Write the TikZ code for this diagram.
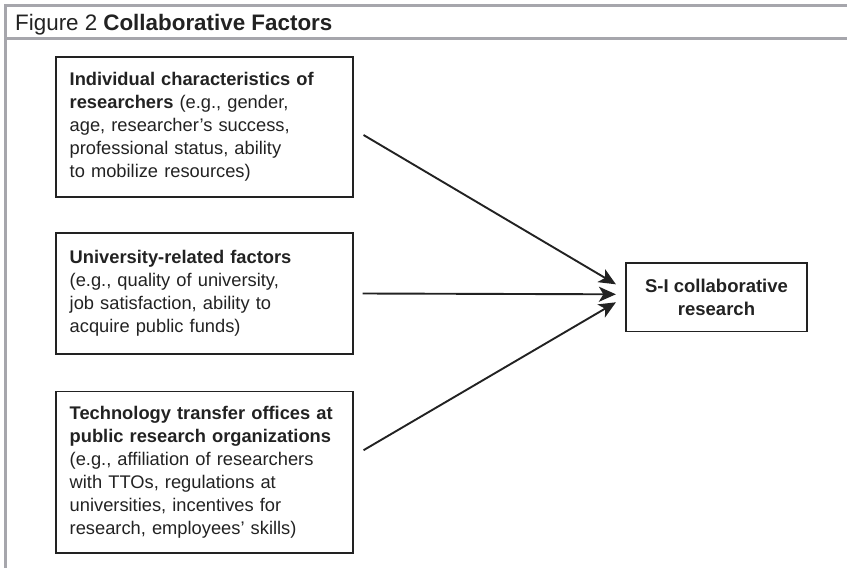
\documentclass[tikz,border=0pt]{standalone}
\usepackage{fontspec}
\setmainfont{Liberation Sans}
\usetikzlibrary{arrows.meta}
\definecolor{ink}{HTML}{222222}
\definecolor{rule}{HTML}{A6A6AC}
\begin{document}
\begin{tikzpicture}[x=1pt,y=-1pt,
  framerule/.style={draw=rule, line width=3pt},
  factor/.style={draw=ink, line width=1.7pt, text=ink, align=left,
    text width=269pt, inner xsep=14pt, inner ysep=0pt,
    minimum width=297pt,
    font=\fontsize{18.3}{23}\selectfont},
  outcome/.style={draw=ink, line width=1.7pt, text=ink, align=center,
    minimum width=181.5pt, minimum height=68.5pt, inner sep=0pt,
    font=\fontsize{18.5}{22.7}\selectfont\bfseries},
  arr/.style={draw=ink, line width=1.9pt,
    -{Stealth[length=17pt,width=15pt,inset=4.5pt]}}]
\useasboundingbox (0,0) rectangle (847,568);

% page frame with title bar
\draw[framerule] (5.5,568) -- (5.5,5.5) -- (847,5.5);
\draw[framerule] (5.5,38) -- (847,38);
\node[anchor=base west, inner sep=0pt, text=ink,
  font=\fontsize{22.4}{26}\selectfont] (title) at (15,30)
  {Figure 2\hspace{6pt}\textbf{Collaborative Factors}};

% factor boxes
\node[factor, minimum height=140pt] (f1) at (204.2,126.7)
  {\textbf{Individual characteristics of}\\
   \textbf{researchers} (e.g., gender,\\
   age, researcher’s success,\\
   professional status, ability\\
   to mobilize resources)};
\node[factor, minimum height=121pt] (f2) at (204.2,293.5)
  {\textbf{University-related factors}\\
   (e.g., quality of university,\\
   job satisfaction, ability to\\
   acquire public funds)};
\node[factor, minimum height=161.5pt] (f3) at (204.2,472.2)
  {\textbf{Technology transfer offices at}\\
   \textbf{public research organizations}\\
   (e.g., affiliation of researchers\\
   with TTOs, regulations at\\
   universities, incentives for\\
   research, employees’ skills)};

% outcome box
\node[outcome] (si) at (716.5,297.3) {S-I collaborative\\research};

% influences
\draw[arr] ([xshift=10pt,yshift=-8.3pt]f1.east) -- ([xshift=-9pt,yshift=13pt]si.west);
\draw[arr] ([xshift=9pt]f2.east) -- ([xshift=-9pt,yshift=3pt]si.west);
\draw[arr] ([xshift=10pt,yshift=22pt]f3.east) -- ([xshift=-9pt,yshift=-5pt]si.west);
\end{tikzpicture}
\end{document}
